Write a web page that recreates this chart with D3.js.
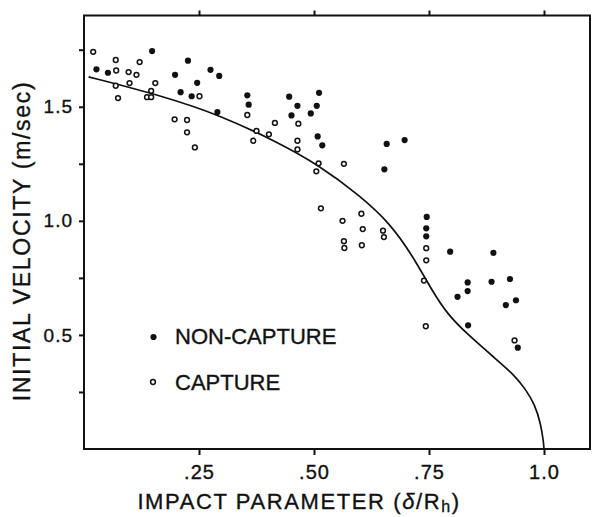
<!DOCTYPE html>
<html>
<head>
<meta charset="utf-8">
<script src="https://cdn.jsdelivr.net/npm/d3@7"></script>
<style>
    body { margin: 0; background: #fff; }
    svg { display: block; }
    text { font-family: "Liberation Sans", Arial, sans-serif; fill: #111; stroke: #111; stroke-width: 0.35px; }
</style>
</head>
<body>
<div id="chart"></div>
<script>
// ============================================================
// Data
// ============================================================
// non-capture trials: [impact parameter, initial velocity]
const nonCapture = [
    [0.027, 1.664], [0.052, 1.649], [0.148, 1.744], [0.198, 1.640], [0.210, 1.564],
    [0.226, 1.702], [0.234, 1.546], [0.246, 1.605], [0.275, 1.662], [0.294, 1.635],
    [0.290, 1.477], [0.355, 1.550], [0.358, 1.509], [0.446, 1.544], [0.464, 1.504],
    [0.451, 1.462], [0.493, 1.471], [0.506, 1.504], [0.511, 1.561], [0.508, 1.370],
    [0.518, 1.331], [0.658, 1.337], [0.697, 1.354], [0.653, 1.226], [0.745, 1.017],
    [0.744, 0.967], [0.744, 0.932], [0.796, 0.865], [0.890, 0.860], [0.834, 0.730],
    [0.886, 0.733], [0.926, 0.745], [0.834, 0.692], [0.812, 0.667], [0.917, 0.631],
    [0.939, 0.652], [0.835, 0.542], [0.943, 0.444]
];

// capture trials
const capture = [
    [0.020, 1.741], [0.069, 1.705], [0.070, 1.659], [0.069, 1.592], [0.074, 1.538],
    [0.097, 1.652], [0.099, 1.604], [0.114, 1.640], [0.121, 1.696], [0.137, 1.542],
    [0.146, 1.542], [0.146, 1.570], [0.155, 1.604], [0.197, 1.445], [0.224, 1.442],
    [0.224, 1.388], [0.241, 1.322], [0.251, 1.546], [0.355, 1.464], [0.375, 1.394],
    [0.368, 1.351], [0.402, 1.379], [0.415, 1.429], [0.466, 1.426], [0.464, 1.351],
    [0.464, 1.313], [0.510, 1.252], [0.505, 1.217], [0.565, 1.250], [0.515, 1.055],
    [0.562, 1.000], [0.603, 1.031], [0.606, 0.964], [0.565, 0.911], [0.566, 0.881],
    [0.604, 0.893], [0.650, 0.957], [0.652, 0.929], [0.744, 0.880], [0.744, 0.827],
    [0.739, 0.738], [0.743, 0.538], [0.936, 0.476]
];

// capture boundary curve (control points)
const boundary = [
    [0.010, 1.631], [0.170, 1.548], [0.300, 1.460], [0.420, 1.345], [0.510, 1.245],
    [0.600, 1.110], [0.665, 0.990], [0.715, 0.845], [0.755, 0.700], [0.790, 0.590],
    [0.835, 0.500], [0.895, 0.395], [0.935, 0.325], [0.960, 0.262], [0.980, 0.195],
    [0.993, 0.110], [0.999, 0.030], [1.000, 0.000]
];

const xTicks = [0.25, 0.5, 0.75, 1.0];
const xTickLabels = ['.25', '.50', '.75', '1.0'];
const yTicks = [0.25, 0.5, 0.75, 1.0, 1.25, 1.5, 1.75];
const yTickLabels = { 0.5: '0.5', 1.0: '1.0', 1.5: '1.5' };

// ============================================================
// Layout
// ============================================================
const W = 595, H = 517;
const plot = { left: 84, right: 590, top: 15.5, bottom: 449 };

const svg = d3.select('#chart')
    .append('svg')
    .attr('width', W)
    .attr('height', H);

const x = d3.scaleLinear().domain([0, 1.1]).range([plot.left, plot.right]);
const y = d3.scaleLinear().domain([0, 1.9]).range([plot.bottom, plot.top]);

// axes
const axisBottom = d3.axisBottom(x)
    .tickValues(xTicks)
    .tickFormat((d, i) => xTickLabels[i])
    .tickSizeOuter(0)
    .tickSize(6)
    .tickPadding(10);

const axisTop = d3.axisTop(x)
    .tickValues(xTicks)
    .tickFormat('')
    .tickSizeOuter(0)
    .tickSize(5);

const axisLeft = d3.axisLeft(y)
    .tickValues(yTicks)
    .tickFormat(d => yTickLabels[d] || '')
    .tickSizeOuter(0)
    .tickSize(5)
    .tickPadding(6);

function styleAxis(g, size) {
    g.select('.domain').remove();
    g.selectAll('.tick line').attr('stroke', '#111').attr('stroke-width', 2);
    g.selectAll('.tick text')
        .style('font-family', '"Liberation Sans", Arial, sans-serif')
        .style('font-size', size + 'px')
        .style('letter-spacing', '1px')
        .attr('fill', '#111');
}

svg.append('g')
    .attr('transform', `translate(0, ${plot.bottom})`)
    .call(axisBottom)
    .call(g => styleAxis(g, 20));

svg.append('g')
    .attr('transform', `translate(0, ${plot.top})`)
    .call(axisTop)
    .call(g => styleAxis(g, 20));

svg.append('g')
    .attr('transform', `translate(${plot.left}, 0)`)
    .call(axisLeft)
    .call(g => styleAxis(g, 19));

// frame
svg.append('rect')
    .attr('x', plot.left)
    .attr('y', plot.top)
    .attr('width', plot.right - plot.left)
    .attr('height', plot.bottom - plot.top)
    .attr('fill', 'none')
    .attr('stroke', '#111')
    .attr('stroke-width', 2);

// boundary curve
const line = d3.line()
    .x(d => x(d[0]))
    .y(d => y(d[1]))
    .curve(d3.curveBasis);

svg.append('path')
    .datum(boundary)
    .attr('d', line)
    .attr('fill', 'none')
    .attr('stroke', '#111')
    .attr('stroke-width', 1.7);

// points
svg.append('g').selectAll('circle')
    .data(nonCapture)
    .join('circle')
    .attr('cx', d => x(d[0]))
    .attr('cy', d => y(d[1]))
    .attr('r', 3.1)
    .attr('fill', '#111');

svg.append('g').selectAll('circle')
    .data(capture)
    .join('circle')
    .attr('cx', d => x(d[0]))
    .attr('cy', d => y(d[1]))
    .attr('r', 2.4)
    .attr('fill', '#fff')
    .attr('stroke', '#111')
    .attr('stroke-width', 1.5);

// legend
const legend = svg.append('g');
legend.append('circle')
    .attr('cx', 153.5).attr('cy', 337)
    .attr('r', 3.1).attr('fill', '#111');
legend.append('text')
    .attr('x', 175).attr('y', 344)
    .style('font-size', '22px')
    .text('NON-CAPTURE');
legend.append('circle')
    .attr('cx', 153).attr('cy', 382)
    .attr('r', 2.4).attr('fill', '#fff')
    .attr('stroke', '#111').attr('stroke-width', 1.5);
legend.append('text')
    .attr('x', 175).attr('y', 390)
    .style('font-size', '22px')
    .text('CAPTURE');

// axis titles
const xTitle = svg.append('text')
    .attr('x', 299).attr('y', 509)
    .attr('text-anchor', 'middle')
    .style('font-size', '22px')
    .style('letter-spacing', '1.6px');
xTitle.append('tspan').text('IMPACT PARAMETER (');
xTitle.append('tspan').style('font-style', 'italic').text('δ');
xTitle.append('tspan').text('/R');
xTitle.append('tspan').attr('dy', 3).style('font-size', '16px').text('h');
xTitle.append('tspan').attr('dy', -3).text(')');

svg.append('text')
    .attr('transform', 'translate(30, 241) rotate(-90)')
    .attr('text-anchor', 'middle')
    .style('font-size', '23px')
    .style('letter-spacing', '1.7px')
    .text('INITIAL VELOCITY (m/sec)');
</script>
</body>
</html>
